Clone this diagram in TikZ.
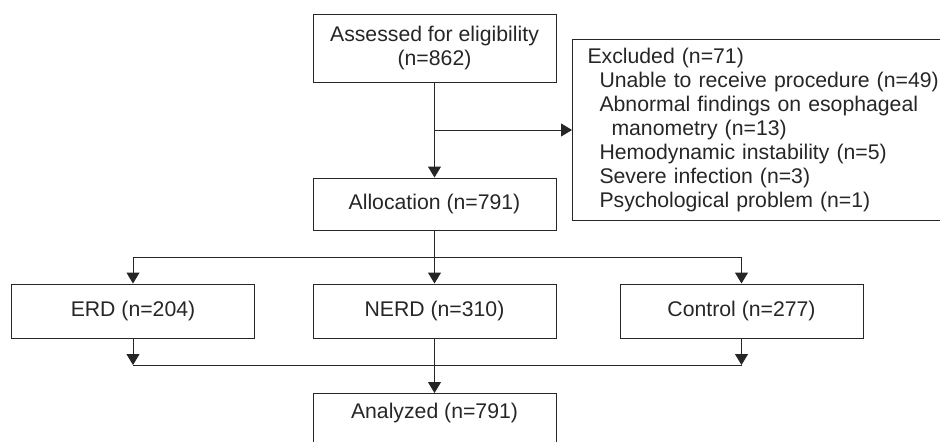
\documentclass[tikz,border=0pt]{standalone}
\usepackage{fontspec}
\setmainfont{Liberation Sans}
\usetikzlibrary{arrows.meta}

\tikzset{
  box/.style={draw=black!85, line width=0.7pt, text=black!85, align=center,
    minimum width=6.075cm, minimum height=1.35cm, inner sep=0pt,
    font=\fontsize{15.1pt}{17.5pt}\selectfont},
  exclbox/.style={draw=black!85, line width=0.7pt, text=black!85, align=left,
    text width=9cm, minimum height=4.525cm, inner xsep=0.375cm, inner ysep=0pt,
    font=\fontsize{15.1pt}{17.1pt}\selectfont},
  arr/.style={draw=black!85, line width=0.7pt,
    -{Triangle[length=0.27cm, width=0.32cm]}}
}

\begin{document}
\begin{tikzpicture}
  \clip (0cm,0cm) rectangle (23.5cm,-11.025cm);
  \node[box, minimum height=1.7cm] (assessed) at (10.8625cm,-1.2cm) {Assessed for eligibility\\(n=862)};
  \node[box, minimum height=1.3cm] (allocation) at (10.8625cm,-5.1cm) {Allocation (n=791)};
  \node[exclbox, anchor=west] (excluded) at (14.3cm,-3.25cm) {Excluded (n=71)\\
    \hspace*{0.3cm}Unable to receive procedure (n=49)\\
    \hspace*{0.3cm}Abnormal findings on esophageal\\
    \hspace*{0.6cm}manometry (n=13)\\
    \hspace*{0.3cm}Hemodynamic instability (n=5)\\
    \hspace*{0.3cm}Severe infection (n=3)\\
    \hspace*{0.3cm}Psychological problem (n=1)};
  \node[box] (erd) at (3.325cm,-7.775cm) {ERD (n=204)};
  \node[box] (nerd) at (10.8625cm,-7.775cm) {NERD (n=310)};
  \node[box] (control) at (18.5375cm,-7.775cm) {Control (n=277)};
  \node[box, anchor=north, text height=0.615cm, text depth=1cm] (analyzed) at (10.8625cm,-9.825cm) {Analyzed (n=791)};
  \coordinate (split) at (10.8625cm,-3.25cm);
  \coordinate (top) at (10.8625cm,-6.425cm);
  \coordinate (bot) at (10.8625cm,-9.125cm);
  \draw[arr] (assessed) -- (allocation);
  \draw[arr] (split) -- (excluded.west);
  \draw[arr] (allocation) -- (nerd);
  \draw[arr] (top) -| (erd.north);
  \draw[arr] (top) -| (control.north);
  \draw[arr] (erd.south) -- (erd.south |- bot);
  \draw[arr] (control.south) -- (control.south |- bot);
  \draw[draw=black!85, line width=0.7pt] (erd.south |- bot) -- (control.south |- bot);
  \draw[arr] (nerd) -- (analyzed);
\end{tikzpicture}
\end{document}
